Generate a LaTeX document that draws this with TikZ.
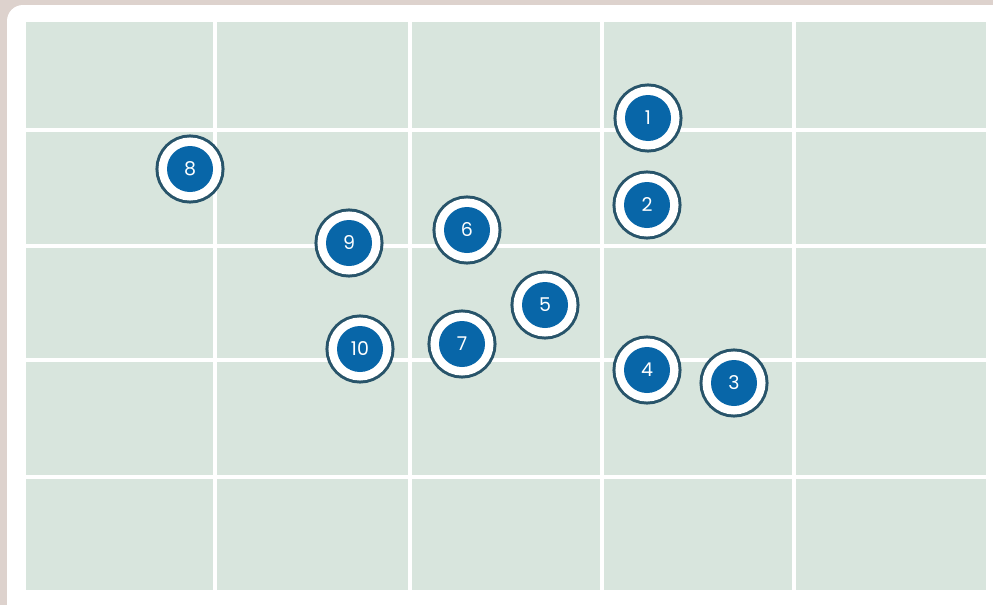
\documentclass[tikz,border=0pt]{standalone}
\usepackage{fontspec}
\setmainfont{Poppins}
\definecolor{bgshadow}{RGB}{221,210,205}
\definecolor{cellgreen}{RGB}{216,229,221}
\definecolor{mblue}{RGB}{8,102,168}
\definecolor{mdark}{RGB}{40,84,106}
\tikzset{
  marker/.style={circle, fill=mblue, text=white, minimum size=46pt, inner sep=0pt,
    font=\fontsize{19}{19}\selectfont,
    preaction={draw=mdark, line width=23pt},
    preaction={draw=white, line width=17pt}},
  cell/.style={fill=cellgreen, draw=none}
}
\begin{document}
\begin{tikzpicture}[x=1pt,y=-1pt]
\useasboundingbox (0,0) rectangle (993,605);
\fill[bgshadow] (0,0) rectangle (993,605);
\fill[white, rounded corners=16pt] (7,5) rectangle (1030,640);
% grid cells
\foreach \xa/\xb in {26/213, 217/408, 412/600, 604/792, 796/986}{
  \foreach \ya/\yb in {22/128, 132/244, 248/358, 362/475, 479/590}{
    \fill[cellgreen] (\xa,\ya) rectangle (\xb,\yb);
  }
}
% markers
\node[marker] (m1) at (648,118) {1};
\node[marker] (m2) at (647,205) {2};
\node[marker] (m3) at (734,383) {3};
\node[marker] (m4) at (647,370) {4};
\node[marker] (m5) at (545,305) {5};
\node[marker] (m6) at (467,230) {6};
\node[marker] (m7) at (462,344) {7};
\node[marker] (m8) at (190,169) {8};
\node[marker] (m9) at (349,243) {9};
\node[marker] (m10) at (360,349) {10};
\end{tikzpicture}
\end{document}
